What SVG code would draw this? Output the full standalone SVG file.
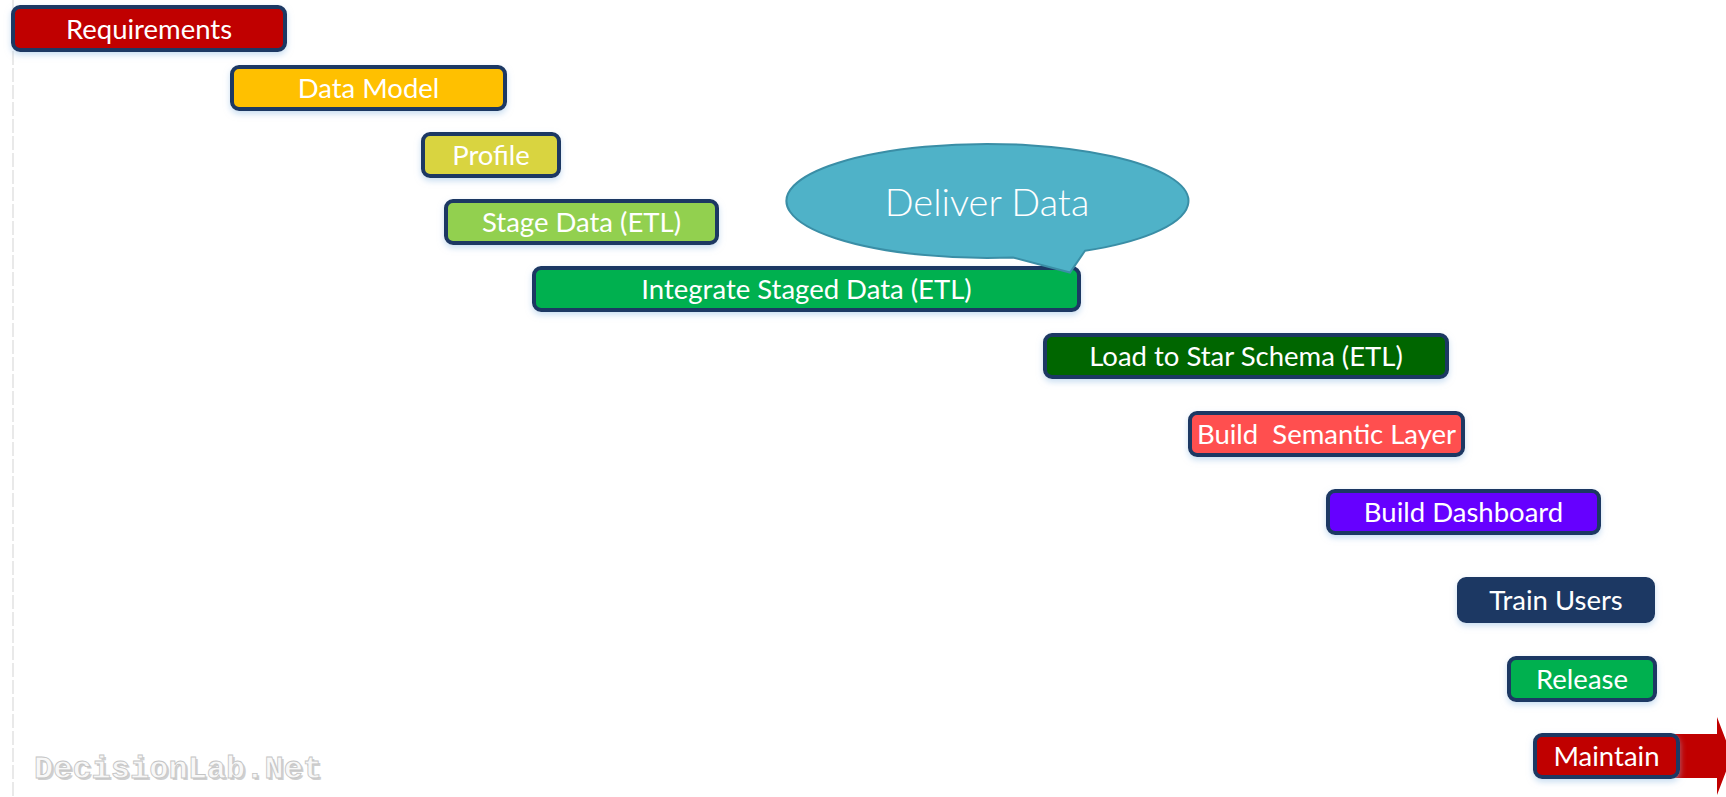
<svg xmlns="http://www.w3.org/2000/svg" width="1726" height="797" viewBox="0 0 1726 797">
  <defs>
    <filter id="soft" x="-10%" y="-30%" width="120%" height="170%">
      <feDropShadow dx="0" dy="3" stdDeviation="3" flood-color="#9dc3e6" flood-opacity="0.55"/>
    </filter>
    <style>
      .bar { stroke: #1f3864; stroke-width: 4; filter: url(#soft); }
      .lbl { font-family: Lato, "Open Sans", "Liberation Sans", sans-serif; font-size: 27.5px; fill: #ffffff; text-anchor: middle; }
      .mark { font-family: "Liberation Mono", "DejaVu Sans Mono", monospace; font-size: 32px; font-weight: bold; }
    </style>
  </defs>
  <rect width="1726" height="797" fill="#ffffff"/>

  <!-- faint time axis on the left -->
  <line x1="13" y1="0" x2="13" y2="797" stroke="#e2e2e2" stroke-width="1.5" stroke-dasharray="14 3"/>

  <g id="requirements">
    <rect class="bar" x="13" y="7" width="272" height="43" rx="7" fill="#c00000"/>
    <text class="lbl" x="149" y="38.5">Requirements</text>
  </g>
  <g id="data-model">
    <rect class="bar" x="232" y="67" width="273" height="42" rx="7" fill="#ffc000"/>
    <text class="lbl" x="368.5" y="98">Data Model</text>
  </g>
  <g id="profile">
    <rect class="bar" x="423" y="134" width="136" height="42" rx="7" fill="#d9d43f"/>
    <text class="lbl" x="491" y="165">Profile</text>
  </g>
  <g id="stage-data">
    <rect class="bar" x="446" y="201" width="271" height="42" rx="7" fill="#92d050"/>
    <text class="lbl" x="581.5" y="232">Stage Data (ETL)</text>
  </g>
  <g id="integrate-staged-data">
    <rect class="bar" x="534" y="268" width="545" height="42" rx="7" fill="#00b050"/>
    <text class="lbl" x="806.5" y="299">Integrate Staged Data (ETL)</text>
  </g>

  <!-- speech bubble pointing at the integration bar -->
  <g id="deliver-data">
    <path d="M1013,257.5 L1070,272.5 L1085,250.8 A201,57 0 1 0 1013,257.5 Z" fill="#4fb2c8" stroke="#3a8ea6" stroke-width="2"/>
    <text x="987" y="216" font-family="Lato, 'Open Sans', 'Liberation Sans', sans-serif" font-weight="300" font-size="38" fill="#ffffff" text-anchor="middle">Deliver Data</text>
  </g>

  <g id="load-star-schema">
    <rect class="bar" x="1045" y="335" width="402" height="42" rx="7" fill="#006600"/>
    <text class="lbl" x="1246" y="366">Load to Star Schema (ETL)</text>
  </g>
  <g id="semantic-layer">
    <rect class="bar" x="1190" y="413" width="273" height="42" rx="7" fill="#ff5050"/>
    <text class="lbl" x="1326.5" y="444" xml:space="preserve">Build  Semantic Layer</text>
  </g>
  <g id="dashboard">
    <rect class="bar" x="1328" y="491" width="271" height="42" rx="7" fill="#6600ff"/>
    <text class="lbl" x="1463.5" y="522">Build Dashboard</text>
  </g>
  <g id="train-users">
    <rect class="bar" x="1459" y="579" width="194" height="42" rx="7" fill="#1f3864"/>
    <text class="lbl" x="1556" y="610">Train Users</text>
  </g>
  <g id="release">
    <rect class="bar" x="1509" y="658" width="146" height="42" rx="7" fill="#00b050"/>
    <text class="lbl" x="1582" y="689">Release</text>
  </g>
  <g id="maintain">
    <polygon points="1640,734 1717,734 1717,717 1732,756 1717,795 1717,778 1640,778" fill="#c00000"/>
    <rect class="bar" x="1535" y="735" width="143" height="42" rx="7" fill="#c00000"/>
    <text class="lbl" x="1606.5" y="766">Maintain</text>
  </g>

  <!-- embossed site mark -->
  <g id="site-mark">
    <text class="mark" x="36" y="780" fill="#cfcfcf">DecisionLab.Net</text>
    <text class="mark" x="34" y="778" fill="#f8f8f8" stroke="#c4c4c4" stroke-width="0.8">DecisionLab.Net</text>
  </g>
</svg>
